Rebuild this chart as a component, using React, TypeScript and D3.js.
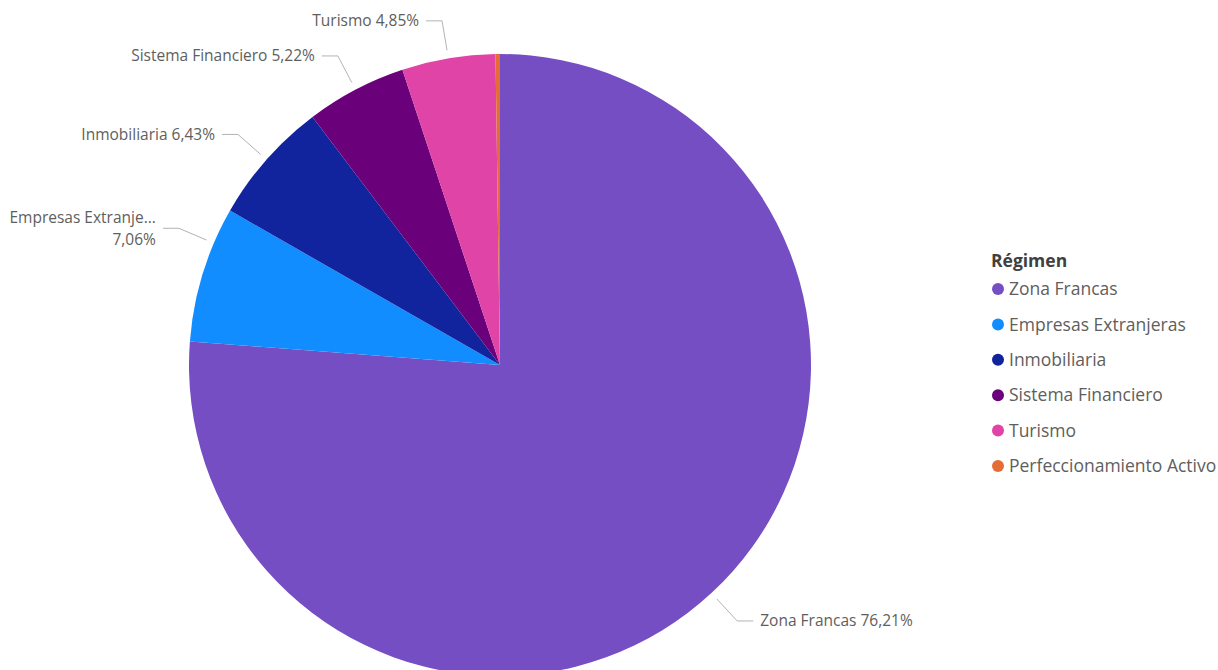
import React from "react";
import * as d3 from "d3";

const categories = [
  "Zona Francas",
  "Empresas Extranjeras",
  "Inmobiliaria",
  "Sistema Financiero",
  "Turismo",
  "Perfeccionamiento Activo",
];
const shares = [76.21, 7.06, 6.43, 5.22, 4.85, 0.23];
const colors = ["#744EC2", "#118DFF", "#12239E", "#6B007B", "#E044A7", "#E66C37"];
const legendTitle = "Régimen";

const width = 1218;
const height = 670;
const cx = 500;
const cy = 365;
const radius = 311;
const font = "'Segoe UI', 'Open Sans', 'Noto Sans', sans-serif";

// nudges some labels away from the slice middle, like the original layout does
const labelNudge: Record<string, number> = { "Empresas Extranjeras": 6 };

const fmt = (v: number) => v.toFixed(2).replace(".", ",") + "%";

const App = () => {
  const pie = d3
    .pie<number>()
    .sort(null)
    .value((d) => d);
  const arcs = pie(shares);
  const arc = d3.arc<d3.PieArcDatum<number>>().innerRadius(0).outerRadius(radius);

  const polar = (a: number, r: number): [number, number] => [
    Math.sin(a) * r,
    -Math.cos(a) * r,
  ];

  const legendY = d3
    .scaleLinear()
    .domain([0, categories.length - 1])
    .range([289, 466]);

  return (
    <svg
      width={width}
      height={height}
      style={{ position: "absolute", left: 0, top: 0, fontFamily: font }}
    >
      <g transform={`translate(${cx},${cy})`}>
        {arcs.map((d, i) => (
          <path key={categories[i]} d={arc(d) || ""} fill={colors[i]} />
        ))}
        {arcs.map((d, i) => {
          if (shares[i] < 1) return null;
          const name = categories[i];
          const mid =
            (d.startAngle + d.endAngle) / 2 + ((labelNudge[name] || 0) * Math.PI) / 180;
          const [x0, y0] = polar(mid, radius + 8);
          const [x1, y1] = polar(mid, radius + 38);
          const right = x1 > 0;
          const x2 = right ? x1 + 16 : x1 - 16;
          const tx = right ? x2 + 7 : x2 - 7;
          const long = name.length > 18;
          const lines = long
            ? [name.slice(0, 17) + "...", fmt(shares[i])]
            : [`${name} ${fmt(shares[i])}`];
          const lh = 22;
          return (
            <g key={name}>
              <polyline
                points={`${x0},${y0} ${x1},${y1} ${x2},${y1}`}
                fill="none"
                stroke="#B3B3B3"
                strokeWidth={1}
              />
              <text
                x={tx}
                y={y1 - ((lines.length - 1) * lh) / 2}
                textAnchor={right ? "start" : "end"}
                fill="#605E5C"
                fontSize={15.5}
              >
                {lines.map((l, k) => (
                  <tspan key={k} x={tx} dy={k === 0 ? "0.35em" : lh}>
                    {l}
                  </tspan>
                ))}
              </text>
            </g>
          );
        })}
      </g>
      <g>
        <text x={991} y={267} fontSize={17.5} fontWeight="bold" fill="#404040">
          {legendTitle}
        </text>
        {categories.map((c, i) => (
          <g key={c} transform={`translate(998,${legendY(i)})`}>
            <circle r={6} fill={colors[i]} />
            <text x={11} dy="0.35em" fontSize={17.5} fill="#605E5C">
              {c}
            </text>
          </g>
        ))}
      </g>
    </svg>
  );
};

export default App;
